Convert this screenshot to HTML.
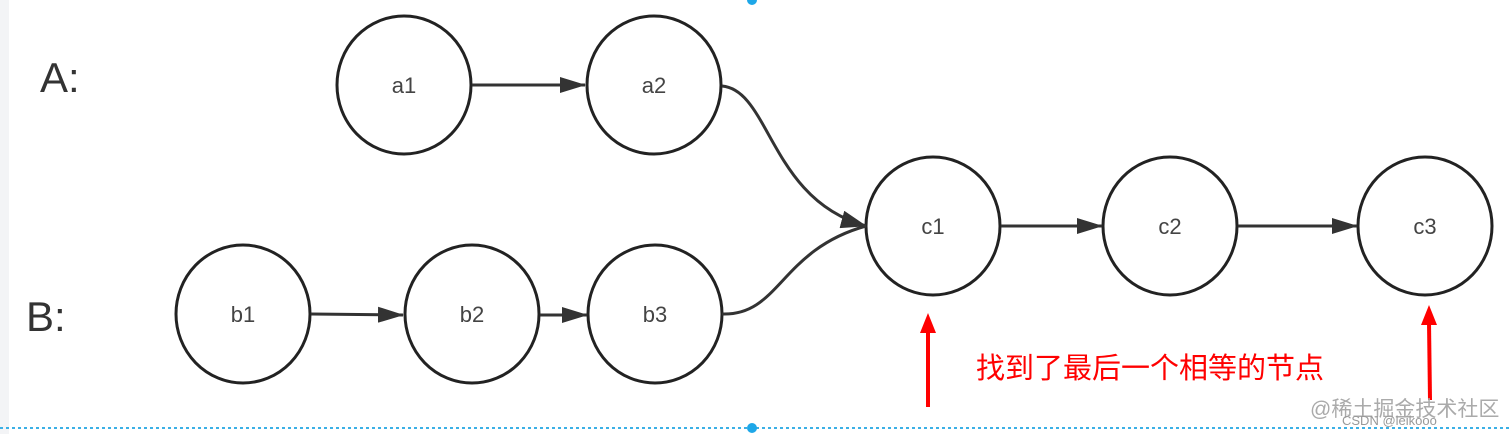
<!DOCTYPE html>
<html><head><meta charset="utf-8"><style>
body{margin:0;background:#fff;}
svg{display:block}
</style></head><body>
<svg width="1512" height="434" viewBox="0 0 1512 434" xmlns="http://www.w3.org/2000/svg">
<rect x="0" y="0" width="9" height="434" fill="#f3f4f6"/>
<defs>
<marker id="ahb" markerWidth="26" markerHeight="18" refX="25" refY="9" orient="auto" markerUnits="userSpaceOnUse">
<path d="M0,0 L26,9 L0,18 Z" fill="#333"/></marker>
<marker id="ahs" markerWidth="26" markerHeight="16" refX="25" refY="8" orient="auto" markerUnits="userSpaceOnUse">
<path d="M0,0 L26,8 L0,16 Z" fill="#333"/></marker>
</defs>
<g font-family="Liberation Sans, sans-serif" fill="#333">
<text x="40" y="92" font-size="42">A:</text>
<text x="26" y="331" font-size="42">B:</text>
</g>
<g fill="#fff" stroke="#222" stroke-width="3">
<ellipse cx="404" cy="85" rx="67" ry="69"/>
<ellipse cx="654" cy="85" rx="67" ry="69"/>
<ellipse cx="243" cy="314" rx="67" ry="69"/>
<ellipse cx="472" cy="314" rx="67" ry="69"/>
<ellipse cx="655" cy="314" rx="67" ry="69"/>
<ellipse cx="933" cy="226" rx="67" ry="69"/>
<ellipse cx="1170" cy="226" rx="67" ry="69"/>
<ellipse cx="1425" cy="226" rx="67" ry="69"/>
</g>
<g font-family="Liberation Sans, sans-serif" font-size="22" fill="#444" text-anchor="middle">
<text x="404" y="93">a1</text><text x="654" y="93">a2</text>
<text x="243" y="322">b1</text><text x="472" y="322">b2</text><text x="655" y="322">b3</text>
<text x="933" y="234">c1</text><text x="1170" y="234">c2</text><text x="1425" y="234">c3</text>
</g>
<g stroke="#333" stroke-width="3" fill="none">
<line x1="472" y1="85" x2="585" y2="85" marker-end="url(#ahs)"/>
<line x1="311" y1="314" x2="403" y2="315" marker-end="url(#ahs)"/>
<line x1="540" y1="315" x2="587" y2="315" marker-end="url(#ahs)"/>
<line x1="1001" y1="226" x2="1102" y2="226" marker-end="url(#ahs)"/>
<line x1="1238" y1="226" x2="1357" y2="226" marker-end="url(#ahs)"/>
<path d="M722,86 C770,90 770,200 866,226" marker-end="url(#ahb)"/>
<path d="M722,314 C780,316 780,250 866,226"/>
</g>
<g stroke="#f00" stroke-width="4" fill="#f00">
<line x1="928" y1="407" x2="928" y2="330"/>
<path d="M920,333 L928,313 L936,333 Z" stroke="none"/>
<line x1="1430" y1="400" x2="1429" y2="322"/>
<path d="M1421,325 L1429,305 L1437,325 Z" stroke="none"/>
</g>
<text x="976" y="378" font-family="Liberation Sans, Noto Sans CJK SC, sans-serif" font-size="29" fill="#f00">找到了最后一个相等的节点</text>
<text x="1310" y="416" font-family="Liberation Sans, Noto Sans CJK SC, sans-serif" font-size="21" fill="#aaa">@稀土掘金技术社区</text>
<text x="1342" y="425" font-family="Liberation Sans, sans-serif" font-size="13" fill="#999">CSDN @leikooo</text>
<line x1="0" y1="428" x2="1512" y2="428" stroke="#3bb0e6" stroke-width="2" stroke-dasharray="3,3"/>
<circle cx="752" cy="428" r="5" fill="#1ea7e8"/>
<circle cx="752" cy="0" r="5" fill="#1ea7e8"/>
</svg>
</body></html>
